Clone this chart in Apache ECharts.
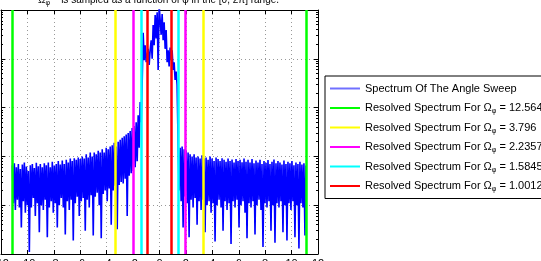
<!DOCTYPE html>
<html>
<head>
<meta charset="utf-8">
<script src="https://cdn.jsdelivr.net/npm/echarts@6/dist/echarts.min.js"></script>
<style>
  html, body { margin: 0; padding: 0; background: #fff; }
  #chart { width: 541px; height: 261px; }
</style>
</head>
<body>
<div id="chart"></div>
<script>
// x axis ticks
var xTicks = { min: -12, max: 12, step: 2 };

// frequency bins of the angle sweep spectrum
var binStart = -11.14,
	binStep = 0.0756;

// spectrum magnitude, left side lobes
var sideLobeLeft = [
	0.065, 0.011, 0.072, 0.008, 0.06, 0.013, 0.07, 0.009, 0.055, 0.0035,
	0.068, 0.012, 0.075, 0.007, 0.062, 0.01, 0.05, 0.0011, 0.066, 0.009,
	0.07, 0.014, 0.058, 0.006, 0.074, 0.011, 0.063, 0.0028, 0.07, 0.01,
	0.06, 0.008, 0.072, 0.013, 0.066, 0.0022, 0.075, 0.009, 0.06, 0.012,
	0.078, 0.007, 0.065, 0.011, 0.07, 0.0035, 0.08, 0.01, 0.068, 0.014,
	0.082, 0.009, 0.07, 0.0025, 0.085, 0.012, 0.075, 0.008, 0.09, 0.013,
	0.08, 0.0019, 0.092, 0.011, 0.085, 0.015, 0.095, 0.006, 0.088, 0.012,
	0.1, 0.014, 0.09, 0.003, 0.11, 0.013, 0.095, 0.009, 0.12, 0.016,
	0.1, 0.0024, 0.12, 0.015, 0.11, 0.018, 0.13, 0.01, 0.12, 0.0021,
	0.14, 0.017, 0.12, 0.02, 0.15, 0.012, 0.14, 0.022, 0.16, 0.004,
	0.17, 0.02, 0.19, 0.025, 0.16, 0.0032, 0.2, 0.026, 0.22, 0.03,
	0.24, 0.028, 0.26, 0.035, 0.28, 0.006, 0.3, 0.04, 0.33, 0.045,
	0.38, 0.05, 0.42, 0.06, 0.5, 0.08, 0.7, 0.15, 1.3, 0.5
];

// main lobe
var mainLobe = [
	3.2, 34, 9.4, 19, 8.5, 12, 16, 7.5, 15, 24,
	10, 49, 19, 79, 26, 90, 5.9, 130, 62, 31,
	83, 24, 56, 16, 39, 8.5, 15, 7, 17, 9.4,
	15, 5.9, 8.5, 3.7, 5.5, 2.9
];

// right side lobes
var sideLobeRight = [
	0.17, 0.02, 0.15, 0.012, 0.16, 0.0035, 0.14, 0.015, 0.13, 0.011,
	0.12, 0.0022, 0.11, 0.013, 0.1, 0.009, 0.11, 0.014, 0.095, 0.004,
	0.1, 0.012, 0.09, 0.008, 0.105, 0.013, 0.09, 0.0028, 0.095, 0.01,
	0.085, 0.012, 0.1, 0.007, 0.09, 0.011, 0.08, 0.0018, 0.095, 0.01,
	0.088, 0.013, 0.08, 0.009, 0.092, 0.003, 0.085, 0.012, 0.078, 0.008,
	0.09, 0.011, 0.08, 0.0016, 0.086, 0.012, 0.075, 0.009, 0.088, 0.013,
	0.08, 0.0035, 0.085, 0.01, 0.076, 0.012, 0.09, 0.007, 0.078, 0.0021,
	0.085, 0.011, 0.075, 0.009, 0.088, 0.012, 0.072, 0.0025, 0.082, 0.01,
	0.075, 0.013, 0.085, 0.008, 0.07, 0.0014, 0.08, 0.011, 0.074, 0.009,
	0.084, 0.012, 0.07, 0.003, 0.078, 0.01, 0.086, 0.0017, 0.072, 0.011,
	0.08, 0.009, 0.075, 0.012, 0.068, 0.0028, 0.082, 0.01, 0.07, 0.0019,
	0.078, 0.011, 0.072, 0.008, 0.08, 0.012, 0.066, 0.0022, 0.075, 0.01,
	0.07, 0.0013, 0.078, 0.011, 0.068, 0.009, 0.072, 0.0024, 0.065
];

// resolved spectra: omega values (legend) and where the lines sit (+/-)
var resolvedOmega = ['12.5649', '3.796', '2.2357', '1.5845', '1.0012'];
var resolvedLineX = [11.13, 3.35, 1.98, 1.40, 0.91];
var resolvedColor = ['#00ff00', '#ffff00', '#ff00ff', '#00ffff', '#ff0000'];

var spectrumName = 'Spectrum Of The Angle Sweep';

var spectrum = sideLobeLeft.concat(mainLobe, sideLobeRight).map(function(v, i) {
	return [binStart + i * binStep, v];
});

function $each(arr, fn) {
	for (var i = 0; i < arr.length; i++) fn(i, arr[i]);
}

var series = [{
	name: spectrumName,
	type: 'line',
	data: spectrum,
	symbol: 'none',
	color: '#0000ff',
	lineStyle: { width: 1.6, color: '#0000ff' },
	z: 2,
	animation: false
}];
var legendData = [{ name: spectrumName, icon: 'rect', itemStyle: { color: '#7070ff' } }];

$each(resolvedOmega, function(i, om) {
	var x = resolvedLineX[i];
	var name = 'Resolved Spectrum For Ω_φ = ' + om;
	series.push({
		name: name,
		type: 'line',
		data: [],
		symbol: 'none',
		color: resolvedColor[i],
		lineStyle: { width: 2, color: resolvedColor[i] },
		z: 3,
		markLine: {
			silent: true,
			animation: false,
			symbol: ['none', 'none'],
			label: { show: false },
			lineStyle: { type: 'solid', width: 2.5, color: resolvedColor[i] },
			data: [{ xAxis: -x }, { xAxis: x }]
		}
	});
	legendData.push({ name: name, icon: 'rect', itemStyle: { color: resolvedColor[i] } });
});

var tickIn = { show: true, inside: true, length: 4, lineStyle: { color: '#000' } };
var gridDots = { show: true, lineStyle: { type: [1, 3], color: '#999' } };

function frameLine() {
	return { onZero: false, lineStyle: { color: '#000', width: 1 } };
}

var option = {
	backgroundColor: '#fff',
	animation: false,
	textStyle: { fontFamily: 'Liberation Sans, Arial, sans-serif' },
	grid: { left: 1, right: 223, top: 10, bottom: 7, outerBoundsMode: 'none', containLabel: false },
	graphic: [{
		type: 'text',
		left: 38,
		top: -5,
		style: {
			text: 'Ω{s|φ}    is sampled as a function of φ in the [0, 2π] range.',
			font: '10px Liberation Sans',
			fill: '#000',
			rich: { s: { fontSize: 7, padding: [7, 0, 0, 0] } }
		}
	}],
	legend: {
		orient: 'vertical',
		left: 325,
		top: 76,
		padding: [5, 40, 5, 5],
		itemWidth: 30,
		itemHeight: 2,
		itemGap: 4.5,
		backgroundColor: '#fff',
		borderColor: '#000',
		borderWidth: 1,
		borderRadius: 0,
		textStyle: {
			fontSize: 11,
			lineHeight: 15,
			color: '#000',
			fontFamily: 'Liberation Sans',
			rich: { s: { fontSize: 7, padding: [7, 0, 0, 0] } }
		},
		formatter: function(name) {
			return name.replace('Ω_φ', 'Ω{s|φ}');
		},
		data: legendData
	},
	xAxis: [{
		type: 'value',
		min: xTicks.min,
		max: xTicks.max,
		interval: xTicks.step,
		axisLine: frameLine(),
		axisTick: tickIn,
		axisLabel: { color: '#000', fontSize: 11, margin: 4 },
		splitLine: gridDots
	}, {
		type: 'value',
		position: 'top',
		min: xTicks.min,
		max: xTicks.max,
		interval: xTicks.step,
		axisLine: frameLine(),
		axisTick: tickIn,
		axisLabel: { show: false },
		splitLine: { show: false }
	}],
	yAxis: [{
		type: 'log',
		position: 'left',
		min: 1e-3,
		max: 1e2,
		logBase: 10,
		axisLine: frameLine(),
		axisTick: tickIn,
		minorTick: { show: true, splitNumber: 9, length: 2, lineStyle: { color: '#000' } },
		axisLabel: { show: false },
		splitLine: gridDots
	}, {
		type: 'log',
		position: 'right',
		min: 1e-3,
		max: 1e2,
		logBase: 10,
		axisLine: frameLine(),
		axisTick: tickIn,
		minorTick: { show: true, splitNumber: 9, length: 2, lineStyle: { color: '#000' } },
		axisLabel: { show: false },
		splitLine: { show: false }
	}],
	series: series
};

var chart = echarts.init(document.getElementById('chart'));
chart.setOption(option);
</script>
</body>
</html>
